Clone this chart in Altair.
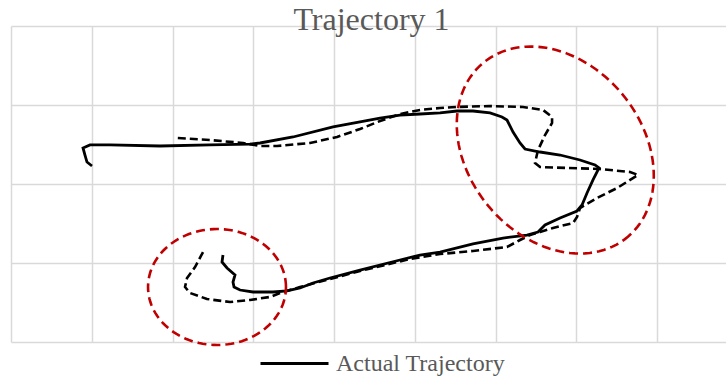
import numpy as np
import pandas as pd
import altair as alt

# Recorded path (solid) and reference path (dashed), in grid units
actual_x = [2.625, 2.613, 2.675, 2.774, 2.749, 2.762, 2.836, 2.997, 3.245, 3.418,
            3.579, 3.740, 3.950, 4.322, 4.817, 5.065, 5.313, 5.721, 6.093, 6.390,
            6.526, 6.613, 6.799, 7.009, 7.071, 7.133, 7.207, 7.257, 7.282, 7.232,
            7.046, 6.799, 6.551, 6.365, 6.303, 6.217, 6.142, 6.080, 5.932, 5.721,
            5.523, 5.313, 5.065, 4.817, 4.570, 4.322, 3.988, 3.492, 3.084, 2.960,
            2.464, 1.845, 1.226, 0.978, 0.892, 0.916, 0.941, 1.003]
actual_y = [1.101, 1.013, 0.937, 0.848, 0.759, 0.696, 0.658, 0.633, 0.633, 0.646,
            0.684, 0.747, 0.810, 0.911, 1.038, 1.101, 1.139, 1.241, 1.316, 1.354,
            1.392, 1.481, 1.570, 1.658, 1.734, 1.886, 2.051, 2.152, 2.203, 2.241,
            2.304, 2.367, 2.405, 2.443, 2.519, 2.658, 2.810, 2.848, 2.899, 2.924,
            2.924, 2.899, 2.886, 2.873, 2.835, 2.785, 2.722, 2.595, 2.519, 2.506,
            2.494, 2.481, 2.494, 2.494, 2.456, 2.367, 2.278, 2.228]

planned_x = [2.378, 2.279, 2.180, 2.155, 2.217, 2.427, 2.712, 2.960, 3.207, 3.331,
             3.579, 3.950, 4.322, 4.941, 5.313, 5.721, 6.142, 6.303, 6.427, 6.551,
             6.712, 6.960, 7.009, 7.046, 7.257, 7.505, 7.765, 7.666, 7.294, 6.885,
             6.551, 6.489, 6.526, 6.613, 6.700, 6.700, 6.588, 6.341, 5.932, 5.523,
             5.313, 5.065, 4.817, 4.570, 4.322, 4.037, 3.703, 3.294, 3.084, 2.873,
             2.464, 2.056]
planned_y = [1.139, 0.949, 0.810, 0.696, 0.620, 0.544, 0.506, 0.532, 0.570, 0.620,
             0.696, 0.797, 0.899, 1.051, 1.114, 1.152, 1.203, 1.291, 1.354, 1.392,
             1.443, 1.506, 1.582, 1.696, 1.823, 1.949, 2.114, 2.152, 2.190, 2.203,
             2.215, 2.266, 2.430, 2.620, 2.772, 2.848, 2.937, 2.975, 2.987, 2.975,
             2.962, 2.937, 2.886, 2.797, 2.696, 2.595, 2.519, 2.481, 2.481, 2.519,
             2.557, 2.582]

# Highlight regions: centre x, centre y, semi-axis a, semi-axis b, rotation (deg)
regions = [
    ("start", 2.551, 0.696, 0.854, 0.734, 0.0),
    ("turn", 6.740, 2.430, 1.42, 1.09, -53.0),
]

x_ticks = [0, 1, 2, 3, 4, 5, 6, 7, 8]
y_ticks = [0, 1, 2, 3, 4]
X_MAX = 8.854

actual = pd.DataFrame({"x": actual_x, "y": actual_y, "i": range(len(actual_x)),
                       "series": "Actual Trajectory"})
planned = pd.DataFrame({"x": planned_x, "y": planned_y, "i": range(len(planned_x))})

rows = []
t = np.linspace(0, 2 * np.pi, 121)
for name, cx, cy, a, b, rot in regions:
    th = np.radians(rot)
    ex = cx + a * np.cos(t) * np.cos(th) - b * np.sin(t) * np.sin(th)
    ey = cy + a * np.cos(t) * np.sin(th) + b * np.sin(t) * np.cos(th)
    for k, (px, py) in enumerate(zip(ex, ey)):
        rows.append({"region": name, "x": px, "y": py, "i": k})
ellipses = pd.DataFrame(rows)

xs = alt.Scale(domain=[0, X_MAX], nice=False, zero=False)
ys = alt.Scale(domain=[0, 4], nice=False, zero=False)
xa = alt.Axis(values=x_ticks, labels=False, ticks=False, domain=False, title=None,
              grid=True, gridColor="#d9d9d9", gridWidth=1.5)
ya = alt.Axis(values=y_ticks, labels=False, ticks=False, domain=False, title=None,
              grid=True, gridColor="#d9d9d9", gridWidth=1.5)

planned_line = alt.Chart(planned).mark_line(
    color="black", strokeWidth=2.6, strokeDash=[8, 4]
).encode(
    x=alt.X("x:Q", scale=xs, axis=xa),
    y=alt.Y("y:Q", scale=ys, axis=ya),
    order="i:Q",
)

actual_line = alt.Chart(actual).mark_line(strokeWidth=2.8).encode(
    x=alt.X("x:Q", scale=xs, axis=xa),
    y=alt.Y("y:Q", scale=ys, axis=ya),
    order="i:Q",
    color=alt.Color(
        "series:N",
        scale=alt.Scale(domain=["Actual Trajectory"], range=["black"]),
        legend=alt.Legend(
            title=None, orient="none", legendX=248, legendY=302, padding=0,
            symbolType="stroke", symbolSize=4624, symbolStrokeWidth=2.8,
            labelFont="Liberation Serif", labelFontSize=24, labelColor="#595959",
            labelOffset=6, labelLimit=400,
        ),
    ),
)

ellipse_lines = alt.Chart(ellipses).mark_line(
    color="#c00000", strokeWidth=2.6, strokeDash=[9, 5]
).encode(
    x=alt.X("x:Q", scale=xs, axis=xa),
    y=alt.Y("y:Q", scale=ys, axis=ya),
    detail="region:N",
    order="i:Q",
)

chart = alt.layer(planned_line, actual_line, ellipse_lines).properties(
    width=715,
    height=316,
    padding={"left": 11, "top": 26, "right": 0, "bottom": 35},
    autosize=alt.AutoSizeParams(type="none"),
    title=alt.TitleParams(
        "Trajectory 1", font="Liberation Serif", fontSize=32, fontWeight="normal",
        color="#595959", anchor="middle", baseline="alphabetic", offset=-36, dx=3,
    ),
).configure_view(stroke=None)

chart.save("out.html", embed_options={"renderer": "svg", "actions": False})
